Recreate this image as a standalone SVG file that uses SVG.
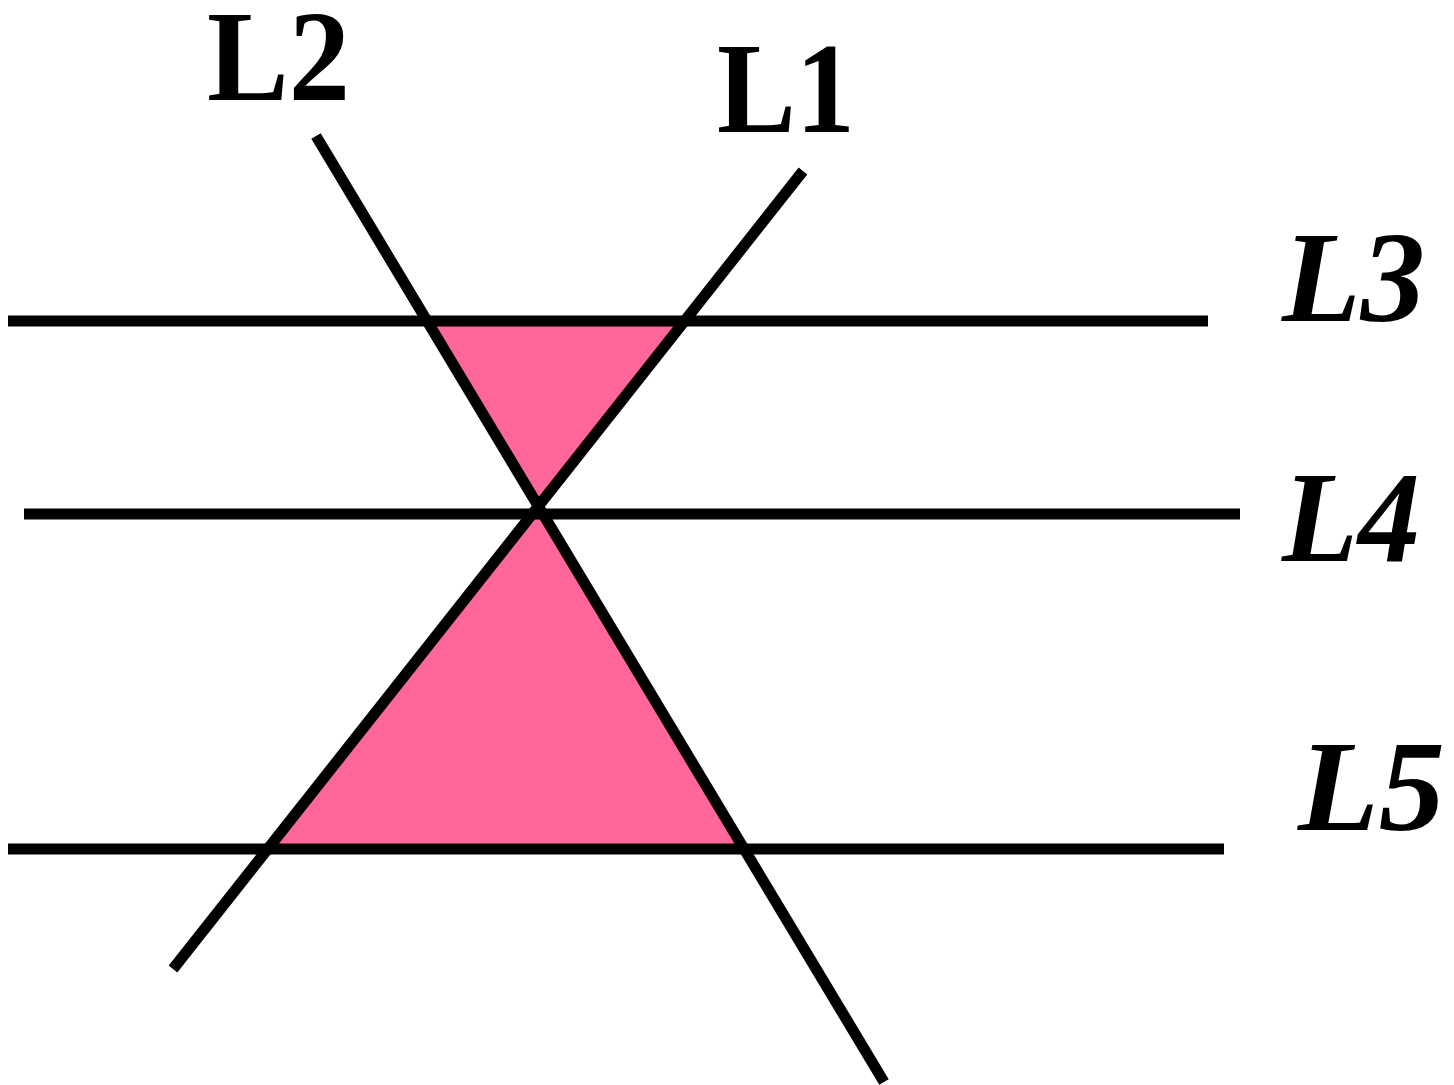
<svg xmlns="http://www.w3.org/2000/svg" width="1454" height="1085" viewBox="0 0 1454 1085">
<style>
.ln{stroke:#000;stroke-width:11;fill:none}
.fill{fill:#FF6699;stroke:none}
.lbl{font-family:"Liberation Serif","Times New Roman",serif;font-weight:bold;font-size:130px;fill:#000}
.it{font-style:italic}
</style>
<rect width="1454" height="1085" fill="#fff"/>
<g id="regions">
<polygon class="fill" points="427,321 684,321 536,508"/>
<polygon class="fill" points="536,508 267,849 743,849"/>
</g>
<g id="connectors">
<line id="L3" class="ln" x1="8" y1="321" x2="1208" y2="321"/>
<line id="L4" class="ln" x1="24" y1="514" x2="1240" y2="514"/>
<line id="L5" class="ln" x1="8" y1="849" x2="1224" y2="849"/>
<line id="L2" class="ln" x1="316" y1="136" x2="884" y2="1082"/>
<line id="L1" class="ln" x1="803" y1="171" x2="173" y2="969"/>
</g>
<g id="labels">
<text id="t-L2" class="lbl" x="207" y="100" textLength="143" lengthAdjust="spacingAndGlyphs">L2</text>
<text id="t-L1" class="lbl" x="717" y="132" textLength="138" lengthAdjust="spacingAndGlyphs">L1</text>
<text id="t-L3" class="lbl it" x="1282" y="321" textLength="143" lengthAdjust="spacingAndGlyphs">L3</text>
<text id="t-L4" class="lbl it" x="1282" y="561" textLength="138" lengthAdjust="spacingAndGlyphs">L4</text>
<text id="t-L5" class="lbl it" x="1298" y="830" textLength="147" lengthAdjust="spacingAndGlyphs">L5</text>
</g>
</svg>
